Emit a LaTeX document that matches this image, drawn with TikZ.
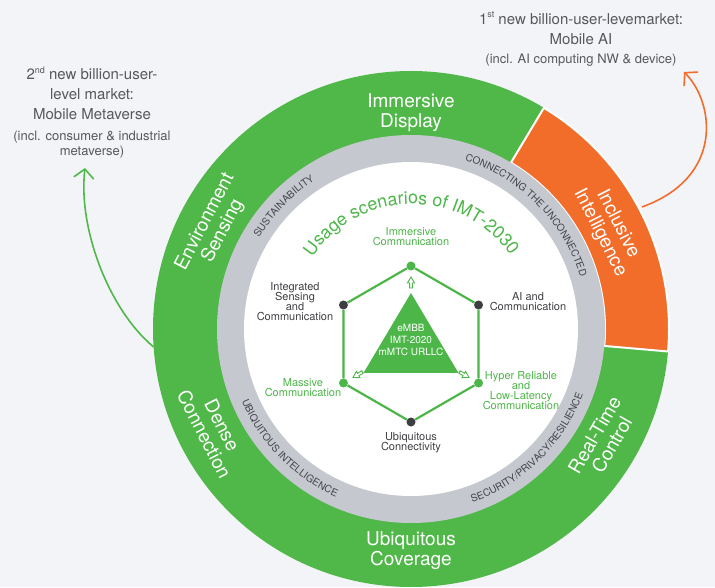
\documentclass[tikz,border=0pt]{standalone}
\usepackage{fontspec}
\setmainfont{TeX Gyre Heros}
\usetikzlibrary{calc,decorations.text,arrows.meta}
\definecolor{bgc}{RGB}{243,244,248}
\definecolor{ringgreen}{RGB}{80,184,72}
\definecolor{orangec}{RGB}{242,108,42}
\definecolor{ringgray}{RGB}{197,201,207}
\definecolor{ringtxt}{RGB}{66,68,72}
\definecolor{greentext}{RGB}{76,182,72}
\definecolor{darktext}{RGB}{64,64,68}
\definecolor{notegray}{RGB}{88,88,90}
\definecolor{hexgreen}{RGB}{76,182,72}
\definecolor{dotdark}{RGB}{62,62,66}
\begin{document}
\begin{tikzpicture}[x=1pt,y=1pt,
  outerlbl/.style={text=white, align=center, inner sep=0, font={\fontsize{19}{20}\selectfont\lineskiplimit=-20pt}},
  scenG/.style={text=greentext, align=center, inner sep=0, font={\fontsize{11}{10}\selectfont\lineskiplimit=-20pt}},
  scenD/.style={text=darktext, align=center, inner sep=0, font={\fontsize{11}{10}\selectfont\lineskiplimit=-20pt}},
  tritext/.style={text=white, align=center, inner sep=0, font={\fontsize{10}{12}\selectfont\lineskiplimit=-20pt}},
  dotG/.style={circle, fill=hexgreen, minimum size=9, inner sep=0},
  dotD/.style={circle, fill=dotdark, minimum size=9, inner sep=0},
  hexline/.style={draw=hexgreen, line width=2.2},
  hollow/.style={draw=hexgreen, fill=white, line width=0.9, line join=miter},
  note/.style={text=notegray, align=center, inner sep=0},
  bigfont/.style={font={\fontsize{15}{20}\selectfont\lineskiplimit=-20pt}},
  smallfont/.style={font={\fontsize{13}{15}\selectfont\lineskiplimit=-20pt}},
  curvearrow/.style={line width=1.6, -{Straight Barb[length=9,width=20]}},
]
\useasboundingbox (0,0) rectangle (715,587);
\fill[bgc] (0,0) rectangle (715,587);
\coordinate (O) at (411,258);
% outer ring
\fill[ringgreen] (O) circle[radius=258];
\fill[orangec, draw=white, line width=2] ($(O)+(-5:258)$) arc[start angle=-5,end angle=59,radius=258] -- ($(O)+(59:194)$) arc[start angle=59,end angle=-5,radius=194] -- cycle;
\fill[ringgray] (O) circle[radius=194];
\fill[white] (O) circle[radius=167];
% outer labels
\node[outerlbl] (disp) at ($(O)+(90:216)$) {Immersive\\Display};
\node[outerlbl, rotate=62.5] (env) at ($(O)+(152.5:222)$) {Environment\\Sensing};
\node[outerlbl, rotate=-63] (incl) at ($(O)+(27:222)$) {Inclusive\\Intelligence};
\node[outerlbl, rotate=60] (rtc) at ($(O)+(-30:222)$) {Real-Time\\Control};
\node[outerlbl, rotate=-63] (dense) at ($(O)+(207:222)$) {Dense\\Connection};
\node[outerlbl] (cov) at ($(O)+(270:222)$) {Ubiquitous\\Coverage};
% gray ring texts
\path[decorate, decoration={text along path, text align=center, text color=ringtxt, text={|\fontsize{10}{12}\selectfont|SUSTAINABILITY}}] ($(O)+(170:177)$) arc[start angle=170, end angle=102, radius=177];
\path[decorate, decoration={text along path, text align=center, text color=ringtxt, text={|\fontsize{10}{12}\selectfont|CONNECTING THE UNCONNECTED}}] ($(O)+(85:177)$) arc[start angle=85, end angle=4.4, radius=177];
\path[decorate, decoration={text along path, text align=center, text color=ringtxt, text={|\fontsize{10}{12}\selectfont|UBIQUITOUS INTELLIGENCE}}] ($(O)+(190:184)$) arc[start angle=190, end angle=259, radius=184];
\path[decorate, decoration={text along path, text align=center, text color=ringtxt, text={|\fontsize{10}{12}\selectfont|SECURITY/PRIVACY/RESILIENCE}}] ($(O)+(282:184)$) arc[start angle=282, end angle=346.6, radius=184];
% title
\coordinate (T) at (412,263);
\path[decorate, decoration={text along path, text align=center, text color=greentext, text={|\fontsize{17.8}{20}\selectfont|Usage scenarios of IMT-2030}}] ($(T)+(178:120)$) arc[start angle=178, end angle=3, radius=120];
% hexagon
\coordinate (H) at (411,243);
\node[dotG] (vT) at ($(H)+(90:78)$) {};
\node[dotD] (vUR) at ($(H)+(30:78)$) {};
\node[dotG] (vLR) at ($(H)+(330:78)$) {};
\node[dotD] (vB) at ($(H)+(270:78)$) {};
\node[dotG] (vLL) at ($(H)+(210:78)$) {};
\node[dotD] (vUL) at ($(H)+(150:78)$) {};
\draw[hexline] (vT) -- (vUR) -- (vLR) -- (vB) -- (vLL) -- (vUL) -- (vT);
% triangle
\coordinate (tA) at (411,294);
\coordinate (tL) at (363.5,214);
\coordinate (tR) at (458.5,214);
\fill[hexgreen] (tA) -- (tL) -- (tR) -- cycle;
\node[tritext] (tri) at (411,247) {eMBB\\IMT-2020\\mMTC URLLC};
% hollow arrows
\foreach \a in {90,210,330}{
  \begin{scope}[shift={(H)}, rotate=\a]
    \draw[hollow] (56,-1.4) -- (61,-1.4) -- (61,-3.6) -- (67,0) -- (61,3.6) -- (61,1.4) -- (56,1.4) -- cycle;
  \end{scope}
}
% scenario labels
\node[scenG] (imc) at (411,350) {Immersive\\Communication};
\node[scenD] (isc) at (295,285) {Integrated\\Sensing\\and\\Communication};
\node[scenD] (aic) at (528,285) {AI and\\Communication};
\node[scenG] (mc) at (303,199) {Massive\\Communication};
\node[scenG] (hrl) at (521,196.5) {Hyper Reliable\\and\\Low-Latency\\Communication};
\node[scenD] (uc) at (411,144) {Ubiquitous\\Connectivity};
% notes
\node[note, bigfont] (m2) at (92,494) {2\raisebox{0.42em}{\fontsize{9}{9}\selectfont nd} new billion-user-\\level market:\\Mobile Metaverse};
\node[note, smallfont] (m2s) at (92,442.5) {(incl. consumer \& industrial\\metaverse)};
\node[note, bigfont] (m1) at (581,559) {1\raisebox{0.42em}{\fontsize{9}{9}\selectfont st} new billion-user-levemarket:\\Mobile AI};
\node[note, smallfont] (m1s) at (581,527) {(incl. AI computing NW \& device)};
% curved arrows
\coordinate (aL0) at ($(O)+(184:258)$);
\coordinate (aL1) at (85,419);
\draw[curvearrow, draw=ringgreen] (aL0) .. controls (108,278) and (78,360) .. (aL1);
\coordinate (aR0) at (642,380);
\coordinate (aR1) at (684,515);
\draw[curvearrow, draw=orangec] (aR0) .. controls (725,410) and (714,485) .. (aR1);
\end{tikzpicture}
\end{document}
